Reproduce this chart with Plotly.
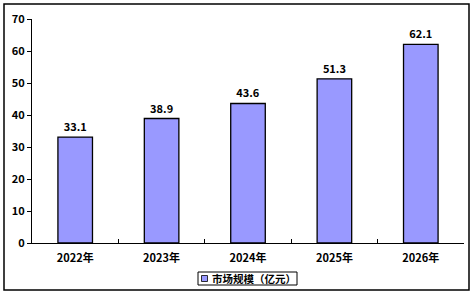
import plotly.graph_objects as go

categories = ["2022年", "2023年", "2024年", "2025年", "2026年"]
values = [33.1, 38.9, 43.6, 51.3, 62.1]
series_name = "市场规模（亿元）"
bar_color = "#9999FF"

W, H = 475, 294
L, R, T, B = 32, 11, 19, 51
pw, ph = W - L - R, H - T - B

font_family = "Noto Sans CJK SC, DejaVu Sans, sans-serif"


def px_x(px):
    return (px - L) / pw


def px_y(py):
    return (H - B - py) / ph


fig = go.Figure(
    go.Bar(
        x=categories,
        y=values,
        name=series_name,
        marker=dict(color=bar_color, line=dict(color="black", width=1.3)),
        text=[f"{v:.1f}" for v in values],
        textposition="outside",
        textfont=dict(size=11, color="black", family=font_family, weight="bold"),
        cliponaxis=False,
        showlegend=False,
    )
)

fig.update_layout(
    width=W,
    height=H,
    margin=dict(l=L, r=R, t=T, b=B, autoexpand=False),
    paper_bgcolor="white",
    plot_bgcolor="white",
    bargap=0.6,
    font=dict(family=font_family, size=11, color="black", weight="bold"),
    showlegend=False,
    xaxis=dict(
        showline=True,
        linecolor="black",
        linewidth=1,
        ticks="inside",
        ticklen=4,
        tickcolor="black",
        tickson="boundaries",
        showgrid=False,
        ticklabelstandoff=5,
        tickfont=dict(size=11, weight="bold"),
    ),
    yaxis=dict(
        range=[0, 70],
        dtick=10,
        showline=True,
        linecolor="black",
        linewidth=1,
        ticks="outside",
        ticklen=4,
        tickcolor="black",
        showgrid=False,
        zeroline=False,
        tickfont=dict(size=11, weight="bold"),
    ),
    shapes=[
        # outer chart border
        dict(type="rect", xref="paper", yref="paper",
             x0=px_x(4), x1=px_x(469), y0=px_y(290), y1=px_y(4),
             line=dict(color="black", width=1.5), fillcolor="rgba(0,0,0,0)", layer="below"),
        # legend box
        dict(type="rect", xref="paper", yref="paper",
             x0=px_x(198), x1=px_x(297), y0=px_y(285), y1=px_y(272),
             line=dict(color="black", width=1), fillcolor="white"),
        # legend swatch
        dict(type="rect", xref="paper", yref="paper",
             x0=px_x(201.5), x1=px_x(207.5), y0=px_y(281.5), y1=px_y(275.5),
             line=dict(color="black", width=0.8), fillcolor=bar_color),
    ],
    annotations=[
        dict(text=series_name, xref="paper", yref="paper",
             x=px_x(210), y=px_y(278.5), xanchor="left", yanchor="middle",
             showarrow=False, font=dict(size=10.5, weight="bold", family=font_family)),
    ],
)

fig.write_html("out.html")
